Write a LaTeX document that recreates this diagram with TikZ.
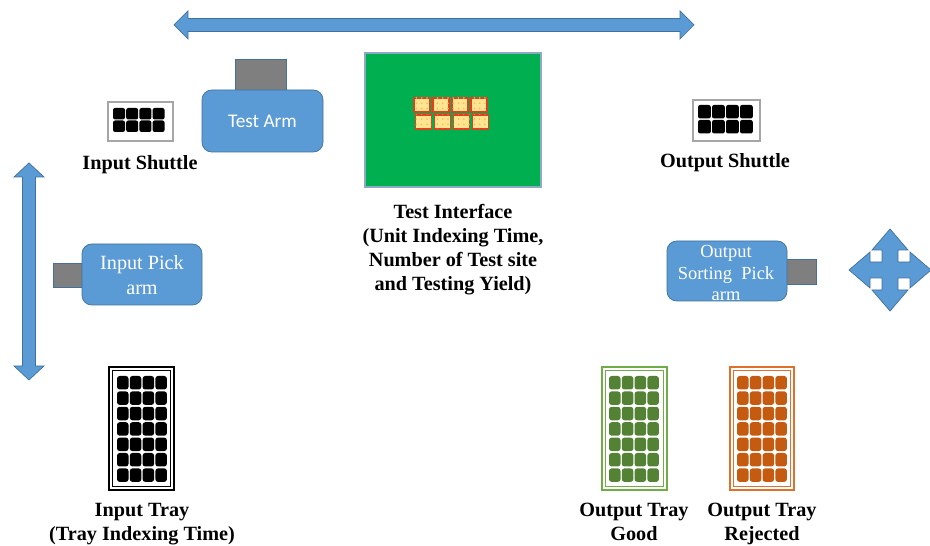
\documentclass[tikz,border=0pt]{standalone}
\usepackage{fontspec}
\setmainfont{Liberation Serif}
\newfontfamily\calibrifont{Carlito}
\usepackage{tikz}
\usetikzlibrary{patterns}

\definecolor{armblue}{HTML}{5B9BD5}
\definecolor{armedge}{HTML}{41719C}
\definecolor{armgray}{HTML}{7F7F7F}
\definecolor{boardgreen}{HTML}{00B050}
\definecolor{boardedge}{HTML}{8EA9C1}
\definecolor{goodgreen}{HTML}{548235}
\definecolor{goodedge}{HTML}{70AD47}
\definecolor{rejorange}{HTML}{C55A11}
\definecolor{rejedge}{HTML}{E0712C}
\definecolor{dutfill}{HTML}{FFE58F}
\definecolor{dutedge}{HTML}{E2401C}

\tikzset{
  armbody/.style={fill=armblue, draw=armedge, line width=0.4pt, rounded corners=5.5pt},
  armhead/.style={fill=armgray, draw=armedge, line width=0.4pt},
  bigarrow/.style={fill=armblue, draw=armedge, line width=0.4pt},
  partname/.style={font=\bfseries\fontsize{11.5}{13.8}\selectfont, align=center},
  armtext/.style={text=white, align=center},
}

\begin{document}
\begin{tikzpicture}[x=0.02cm, y=-0.02cm]

\useasboundingbox (0,0) rectangle (930,546);

% top travel arrow
\filldraw[bigarrow] (174,25) -- (188,11) -- (188,18.5) -- (680,18.5) -- (680,11) -- (694,25)
  -- (680,39) -- (680,31.5) -- (188,31.5) -- (188,39) -- cycle;

% left travel arrow
\filldraw[bigarrow] (29,163) -- (44,177) -- (35.5,177) -- (35.5,366) -- (44,366) -- (29,380)
  -- (14,366) -- (22.5,366) -- (22.5,177) -- (14,177) -- cycle;

% four way arrow
\begin{scope}[shift={(890,270)}]
\filldraw[bigarrow] (0,-41) -- (18,-20) -- (8,-20) -- (8,-8) -- (20,-8) -- (20,-18) -- (41,0)
  -- (20,18) -- (20,8) -- (8,8) -- (8,20) -- (18,20) -- (0,41) -- (-18,20) -- (-8,20)
  -- (-8,8) -- (-20,8) -- (-20,18) -- (-41,0) -- (-20,-18) -- (-20,-8) -- (-8,-8)
  -- (-8,-20) -- (-18,-20) -- cycle;
\end{scope}

% test arm
\filldraw[armhead] (235,59) rectangle (286,91);
\filldraw[armbody] (202,90) rectangle (323,152);
\node[armtext, font=\calibrifont\fontsize{11}{13}\selectfont] (testarm) at (262.5,121) {Test Arm};

% input pick arm
\filldraw[armhead] (53,263) rectangle (84,287);
\filldraw[armbody] (82,244) rectangle (202,305);
\node[armtext, font=\fontsize{11.5}{13.8}\selectfont] (inputarm) at (142,275) {Input Pick\\arm};

% output sorting pick arm
\filldraw[armhead] (786,259) rectangle (816,284);
\filldraw[armbody] (667,241) rectangle (787,301);
\node[armtext, font=\fontsize{10.5}{12.2}\selectfont] (outputarm) at (726,273) {Output\\Sorting~~Pick\\arm};

% input shuttle
\draw[draw=gray!70, line width=0.6pt] (108,102) rectangle (173,141);
\foreach \i in {0,...,3}
  \foreach \j in {0,1}
    \fill[rounded corners=1.2pt] ({113+\i*13.2},{108+\j*12.5}) rectangle +(12,11.5);
\node[partname] (inshuttle) at (140,165) {Input Shuttle};

% output shuttle
\draw[draw=gray!70, line width=0.6pt] (693,100) rectangle (760,141);
\foreach \i in {0,...,3}
  \foreach \j in {0,1}
    \fill[rounded corners=1.2pt] ({698+\i*14},{105+\j*15}) rectangle +(12.8,13.5);
\node[partname] (outshuttle) at (725,163) {Output Shuttle};

% test interface
\filldraw[fill=boardgreen, draw=boardedge, line width=0.6pt] (365,53) rectangle (541,187);
\foreach \i in {0,...,3} {
  \filldraw[fill=dutfill, draw=dutedge, line width=0.9pt] ({414+\i*19},98) rectangle +(16,14);
  \fill[pattern=dots, pattern color=orange!60] ({414+\i*19},98) rectangle +(16,14);
  \filldraw[fill=dutfill, draw=dutedge, line width=0.9pt] ({415.7+\i*19},115) rectangle +(16,14);
  \fill[pattern=dots, pattern color=orange!60] ({415.7+\i*19},115) rectangle +(16,14);
}
\node[partname] (interface) at (453,249.5) {Test Interface\\(Unit Indexing Time,\\Number of Test site\\and Testing Yield)};

% input tray
\draw[line width=1.1pt] (109,367) rectangle (174,490);
\draw[line width=0.6pt] (112.5,370.5) rectangle (170.5,486.5);
\foreach \i in {0,...,3}
  \foreach \j in {0,...,6}
    \fill[rounded corners=1.5pt] ({117+\i*12.8},{376+\j*15.4}) rectangle +(11.5,13.5);
\node[partname, anchor=north] (intray) at (142,497) {Input Tray\\(Tray Indexing Time)};

% output tray good
\draw[draw=goodedge, line width=1.1pt] (602,367) rectangle (667,490);
\draw[draw=goodedge, line width=0.6pt] (605.5,370.5) rectangle (663.5,486.5);
\foreach \i in {0,...,3}
  \foreach \j in {0,...,6}
    \fill[goodgreen, rounded corners=1.5pt] ({609+\i*12.8},{376+\j*15.4}) rectangle +(11.5,13.5);
\node[partname, anchor=north] (goodtray) at (634,497) {Output Tray\\Good};

% output tray rejected
\draw[draw=rejedge, line width=1.1pt] (730,367) rectangle (794,490);
\draw[draw=rejedge, line width=0.6pt] (733.5,370.5) rectangle (790.5,486.5);
\foreach \i in {0,...,3}
  \foreach \j in {0,...,6}
    \fill[rejorange, rounded corners=1.5pt] ({737+\i*12.8},{376+\j*15.4}) rectangle +(11.5,13.5);
\node[partname, anchor=north] (rejtray) at (762,497) {Output Tray\\Rejected};

\end{tikzpicture}
\end{document}
